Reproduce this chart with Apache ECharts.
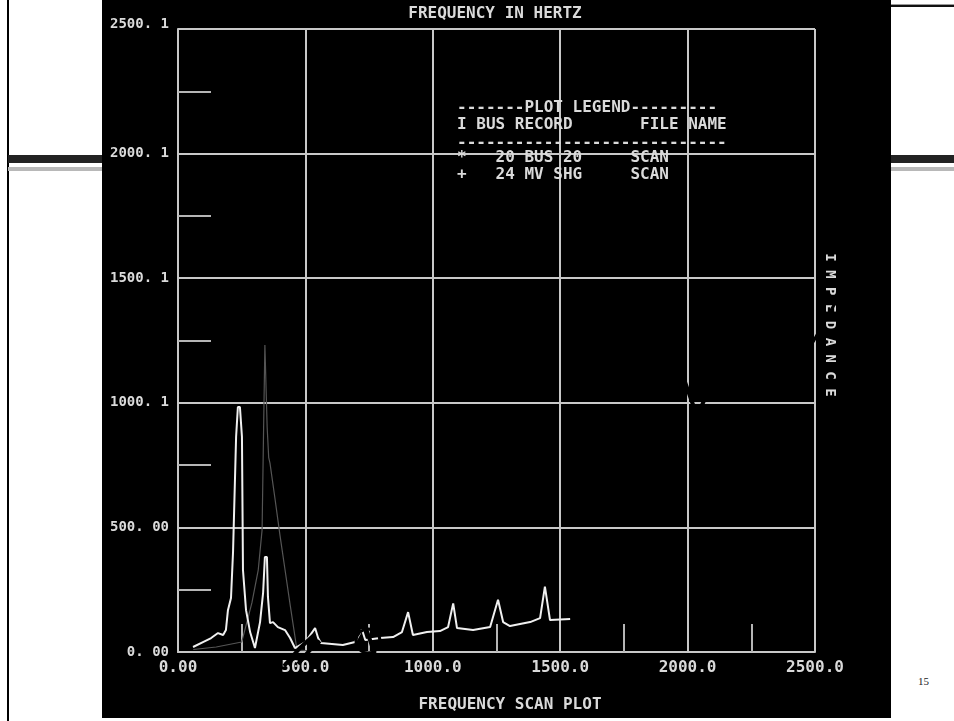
<!DOCTYPE html>
<html>
<head>
<meta charset="utf-8">
<script src="https://cdn.jsdelivr.net/npm/echarts@6/dist/echarts.min.js"></script>
<style>
  html, body { margin:0; padding:0; background:#fff; width:954px; height:721px; overflow:hidden; }
  .abs { position:absolute; }
  #chart { position:absolute; left:0; top:0; width:954px; height:721px; }
</style>
</head>
<body>
<div class="abs" style="left:7px;top:0;width:2px;height:721px;background:#000;"></div>
<div class="abs" style="left:8px;top:155px;width:94px;height:8px;background:#222;"></div>
<div class="abs" style="left:8px;top:167px;width:94px;height:4px;background:#b8b8b8;"></div>
<div class="abs" style="left:891px;top:155px;width:63px;height:8px;background:#222;"></div>
<div class="abs" style="left:891px;top:167px;width:63px;height:4px;background:#b8b8b8;"></div>
<div class="abs" style="left:891px;top:4px;width:63px;height:1px;background:#999;"></div>
<div class="abs" style="left:891px;top:5px;width:63px;height:2px;background:#111;"></div>
<div class="abs" style="left:102px;top:0;width:789px;height:718px;background:#000;"></div>
<div class="abs" style="left:918px;top:675px;font:11px 'Liberation Serif',serif;color:#222;">15</div>
<div id="chart"></div>
<script>
// ---- data ----
const xTickLabels = ['0.00', '500.0', '1000.0', '1500.0', '2000.0', '2500.0'];
const yTickLabels = ['0. 00', '500. 00', '1000. 1', '1500. 1', '2000. 1', '2500. 1'];

const bus20Freq = [59, 98, 130, 157, 177, 188, 196, 208, 216, 228, 235, 243, 251, 255, 267, 283, 302, 322, 334, 341, 349, 353, 361, 373, 392, 420, 440, 459, 500, 538, 550, 561, 647, 695, 722, 735, 793, 844, 879, 903, 922, 977, 1028, 1060, 1080, 1095, 1158, 1225, 1256, 1276, 1303, 1382, 1421, 1440, 1460, 1539];
const bus20Imp  = [20, 40, 56, 76, 68, 88, 168, 217, 401, 863, 983, 983, 863, 329, 168, 80, 16, 120, 237, 381, 381, 221, 116, 120, 100, 88, 56, 16, 40, 96, 56, 36, 28, 40, 90, 48, 56, 60, 80, 160, 68, 80, 84, 100, 195, 96, 88, 100, 210, 120, 104, 120, 136, 262, 128, 132];

const mvShgFreq = [60, 150, 250, 290, 315, 330, 336, 341, 345, 350, 356, 361, 380, 400, 420, 440, 467, 520];
const mvShgImp  = [10, 20, 40, 197, 330, 490, 900, 1232, 1232, 900, 780, 758, 620, 470, 330, 190, 8, 5];

const legendLines = [
  '-------PLOT LEGEND---------',
  'I BUS RECORD       FILE NAME',
  '----------------------------',
  '*   20 BUS 20     SCAN',
  '+   24 MV SHG     SCAN'
];
const titleText = 'FREQUENCY IN HERTZ';
const footText = 'FREQUENCY SCAN PLOT';
const sideText = 'I M P E D A N C E';

// ---- chart ----
const chart = echarts.init(document.getElementById('chart'), null, {renderer: 'canvas'});
const mono = "bold 16px 'DejaVu Sans Mono', monospace";
const txtColor = '#dadada';
const gridColor = '#c8c8c8';

function zip(a, b) { return a.map((v, i) => [v, b[i]]); }

const legendY = [108, 125, 143, 158, 175];
const graphics = [
  {type:'text', x:495, y:14, z:50, style:{text:titleText, font:mono, fill:txtColor, align:'center', verticalAlign:'middle'}},
  {type:'text', x:510, y:705, z:50, style:{text:footText, font:mono, fill:txtColor, align:'center', verticalAlign:'middle'}},
  {type:'text', x:830, y:325, rotation:-Math.PI/2, z:50, style:{text:sideText, font:"bold 14px 'DejaVu Sans Mono', monospace", fill:txtColor, align:'center', verticalAlign:'middle'}}
];
legendLines.forEach((t, i) => {
  graphics.push({type:'text', x:457, y:legendY[i], z:50,
    style:{text:t, font:mono, fill:txtColor, align:'left', verticalAlign:'middle'}});
});
// black hand-drawn annotation strokes over the plot
const ink = {stroke:'#000', lineWidth:4, fill:null};
graphics.push(
  {type:'polyline', z:60, shape:{points:[[284,666],[300,648],[313,636]]}, style:ink},
  {type:'polyline', z:60, shape:{points:[[298,664],[310,650],[320,641]]}, style:ink},
  {type:'circle', z:60, shape:{cx:368, cy:641, r:12}, style:{stroke:'#000', lineWidth:3, fill:null}},
  {type:'polyline', z:60, shape:{points:[[360,612],[370,640],[378,664]]}, style:ink},
  {type:'polyline', z:60, shape:{points:[[680,368],[697,416],[718,370]]}, style:ink},
  {type:'polyline', z:60, shape:{points:[[813,342],[830,312],[846,284]]}, style:{stroke:'#000', lineWidth:3, fill:null}}
);

const option = {
  backgroundColor: 'transparent',
  animation: false,
  grid: {left:178, right:139, top:29, bottom:69, containLabel:false},
  xAxis: {
    type:'value', min:0, max:2500, interval:500,
    axisLine:{show:true, lineStyle:{color:gridColor, width:2}},
    axisTick:{show:false, inside:true},
    minorTick:{show:true, splitNumber:2, length:28, lineStyle:{color:'#b5b5b5', width:2}},
    splitLine:{show:true, lineStyle:{color:gridColor, width:2}},
    axisLabel:{
      margin:8, color:txtColor, fontFamily:'DejaVu Sans Mono', fontWeight:'bold', fontSize:16,
      showMinLabel:true, showMaxLabel:true,
      formatter:(v) => xTickLabels[Math.round(v / 500)]
    }
  },
  yAxis: {
    type:'value', min:0, max:2500, interval:500,
    axisLine:{show:true, lineStyle:{color:gridColor, width:2}},
    axisTick:{show:false, inside:true},
    minorTick:{show:true, splitNumber:2, length:33, lineStyle:{color:'#b5b5b5', width:2}},
    splitLine:{show:true, lineStyle:{color:gridColor, width:2}},
    axisLabel:{
      margin:9, color:txtColor, fontFamily:'DejaVu Sans Mono', fontWeight:'bold', fontSize:14,
      showMinLabel:true, showMaxLabel:true,
      formatter:(v) => {
        const i = Math.round(v / 500);
        return i === 5 ? '{t|' + yTickLabels[i] + '}' : yTickLabels[i];
      },
      rich:{t:{color:txtColor, fontFamily:'DejaVu Sans Mono', fontWeight:'bold', fontSize:14, padding:[0,0,10,0]}}
    }
  },
  series: [
    {name:'24 MV SHG', type:'line', data:zip(mvShgFreq, mvShgImp), symbol:'none', z:2,
     lineStyle:{color:'#555555', width:1.2}},
    {name:'20 BUS 20', type:'line', data:zip(bus20Freq, bus20Imp), symbol:'none', z:3,
     lineStyle:{color:'#f0f0f0', width:2}}
  ],
  graphic: graphics
};
chart.setOption(option);
</script>
</body>
</html>
